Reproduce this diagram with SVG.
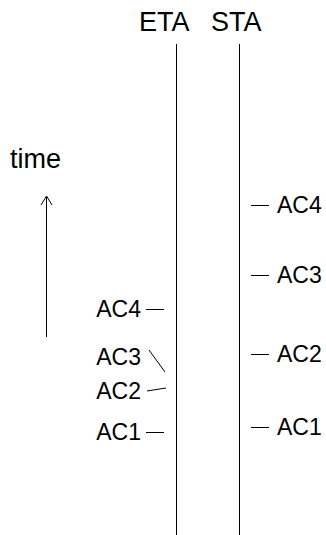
<svg xmlns="http://www.w3.org/2000/svg" width="326" height="535" viewBox="0 0 326 535">
<style>
text{font-family:"Liberation Sans",Arial,sans-serif;fill:#000}
.t{font-size:27px}
.l{font-size:23px}
.ln{stroke:#000;stroke-width:1;fill:none}
.tk{stroke:#000;stroke-width:1;fill:none}
</style>
<rect width="326" height="535" fill="#fff"/>
<g id="eta">
<text class="t" x="139" y="31">ETA</text>
<line class="ln" x1="176.5" y1="44" x2="176.5" y2="535"/>
</g>
<g id="sta">
<text class="t" x="211" y="31">STA</text>
<line class="ln" x1="239.5" y1="44" x2="239.5" y2="535"/>
</g>
<g id="time">
<text x="10" y="168" style="font-size:27px">time</text>
<line class="ln" x1="46.5" y1="197" x2="46.5" y2="337"/>
<polyline class="ln" points="41,205 46.5,196 52,205" stroke-width="2"/>
</g>
<g id="eta-ac4"><text class="l" x="141" y="317" text-anchor="end">AC4</text></g>
<g id="eta-ac3"><text class="l" x="141" y="365" text-anchor="end">AC3</text></g>
<g id="eta-ac2"><text class="l" x="141" y="399" text-anchor="end">AC2</text></g>
<g id="eta-ac1"><text class="l" x="141" y="440" text-anchor="end">AC1</text></g>
<g id="sta-ac4"><text class="l" x="277" y="213">AC4</text></g>
<g id="sta-ac3"><text class="l" x="277" y="283">AC3</text></g>
<g id="sta-ac2"><text class="l" x="277" y="362">AC2</text></g>
<g id="sta-ac1"><text class="l" x="277" y="435">AC1</text></g>
<g id="connectors">
<line class="tk" x1="146" y1="309.5" x2="164" y2="309.5"/>
<line class="tk" x1="149" y1="350" x2="165" y2="372"/>
<line class="tk" x1="147" y1="391" x2="166" y2="388"/>
<line class="tk" x1="146" y1="432.5" x2="164" y2="432.5"/>
<line class="tk" x1="251" y1="205.5" x2="269" y2="205.5"/>
<line class="tk" x1="251" y1="275.5" x2="269" y2="275.5"/>
<line class="tk" x1="251" y1="354.5" x2="269" y2="354.5"/>
<line class="tk" x1="251" y1="427.5" x2="269" y2="427.5"/>
</g>
</svg>
